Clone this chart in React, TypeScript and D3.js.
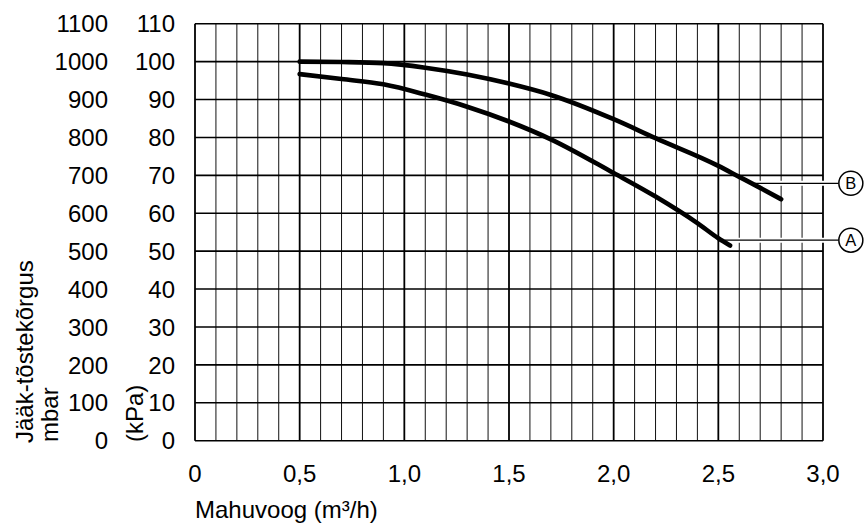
import React from "react";
import * as d3 from "d3";

const xTicks = [0, 0.5, 1.0, 1.5, 2.0, 2.5, 3.0];
const xTickLabels = ["0", "0,5", "1,0", "1,5", "2,0", "2,5", "3,0"];
const kpaTicks = [0, 10, 20, 30, 40, 50, 60, 70, 80, 90, 100, 110];
const mbarLabels = ["0", "100", "200", "300", "400", "500", "600", "700", "800", "900", "1000", "1100"];

const flowB = [0.5, 0.7, 0.9, 1.1, 1.3, 1.5, 1.7, 2.0, 2.2, 2.5, 2.6, 2.7, 2.8];
const headB = [100, 99.9, 99.6, 98.4, 96.6, 94.2, 91.2, 84.8, 79.8, 72.5, 69.6, 66.7, 63.7];
const flowA = [0.5, 0.7, 0.9, 1.1, 1.3, 1.5, 1.7, 2.0, 2.2, 2.4, 2.5, 2.556];
const headA = [96.7, 95.4, 94.0, 91.3, 88.1, 84.2, 79.5, 70.6, 64.4, 57.4, 53.4, 51.5];

const curveLabels = ["A", "B"];
const leaderStartX = [2.53, 2.675];
const leaderY = [52.9, 67.9];
const labelX = 3.133;

const W = 865;
const H = 525;
const left = 195;
const right = 823;
const top = 23.7;
const bottom = 440.7;
const FONT = "'Liberation Sans', Arial, Helvetica, sans-serif";

export default function App() {
  const x = d3.scaleLinear().domain([0, 3]).range([left, right]);
  const y = d3.scaleLinear().domain([0, 110]).range([bottom, top]);

  const minorX = d3.range(0, 31).map((i) => i / 10);
  const line = d3
    .line<[number, number]>()
    .x((d) => x(d[0]))
    .y((d) => y(d[1]))
    .curve(d3.curveMonotoneX);

  const dataA: [number, number][] = flowA.map((f, i) => [f, headA[i]]);
  const dataB: [number, number][] = flowB.map((f, i) => [f, headB[i]]);

  return (
    <svg
      width={W}
      height={H}
      style={{ position: "absolute", left: 0, top: 0, background: "#fff" }}
      fontFamily={FONT}
    >
      <rect x={0} y={0} width={W} height={H} fill="#fff" />
      {minorX.map((v, i) =>
        i % 5 === 0 ? null : (
          <line key={"mx" + i} x1={x(v)} x2={x(v)} y1={y(0)} y2={y(110)} stroke="#111" strokeWidth={1} />
        )
      )}
      {kpaTicks.map((v) => (
        <line key={"hy" + v} x1={x(0)} x2={x(3)} y1={y(v)} y2={y(v)} stroke="#000" strokeWidth={1.6} />
      ))}
      {xTicks.map((v) => (
        <line key={"Mx" + v} x1={x(v)} x2={x(v)} y1={y(0)} y2={y(110)} stroke="#000" strokeWidth={1.8} />
      ))}

      {curveLabels.map((lab, i) => (
        <g key={"ld" + lab}>
          <line x1={x(leaderStartX[i])} x2={x(labelX) - 12} y1={y(leaderY[i])} y2={y(leaderY[i])} stroke="#fff" strokeWidth={5} />
          <line x1={x(leaderStartX[i])} x2={x(labelX) - 12} y1={y(leaderY[i])} y2={y(leaderY[i])} stroke="#000" strokeWidth={1.2} />
        </g>
      ))}

      <path d={line(dataB) || ""} fill="none" stroke="#000" strokeWidth={4.6} strokeLinecap="round" strokeLinejoin="round" />
      <path d={line(dataA) || ""} fill="none" stroke="#000" strokeWidth={4.6} strokeLinecap="round" strokeLinejoin="round" />

      {curveLabels.map((lab, i) => (
        <g key={"lc" + lab}>
          <circle cx={x(labelX)} cy={y(leaderY[i])} r={12} fill="#fff" stroke="#000" strokeWidth={1.5} />
          <text x={x(labelX)} y={y(leaderY[i])} dy="0.36em" textAnchor="middle" fontSize={16.5} fill="#000">
            {lab}
          </text>
        </g>
      ))}

      {kpaTicks.map((v, i) => (
        <g key={"yl" + v}>
          <text x={108} y={y(v)} dy="0.36em" textAnchor="end" fontSize={24} fill="#000">
            {mbarLabels[i]}
          </text>
          <text x={175} y={y(v)} dy="0.36em" textAnchor="end" fontSize={24} fill="#000">
            {v}
          </text>
        </g>
      ))}

      {xTicks.map((v, i) => (
        <text key={"xl" + v} x={x(v)} y={482} textAnchor="middle" fontSize={24} fill="#000">
          {xTickLabels[i]}
        </text>
      ))}

      <text x={left} y={518} fontSize={24} fill="#000">
        Mahuvoog (m³/h)
      </text>
      <text transform="translate(33,443) rotate(-90)" fontSize={24} fill="#000">
        Jääk-tõstekõrgus
      </text>
      <text transform="translate(58,442) rotate(-90)" fontSize={24} fill="#000">
        mbar
      </text>
      <text transform="translate(143,442) rotate(-90)" fontSize={24} fill="#000">
        (kPa)
      </text>
    </svg>
  );
}
